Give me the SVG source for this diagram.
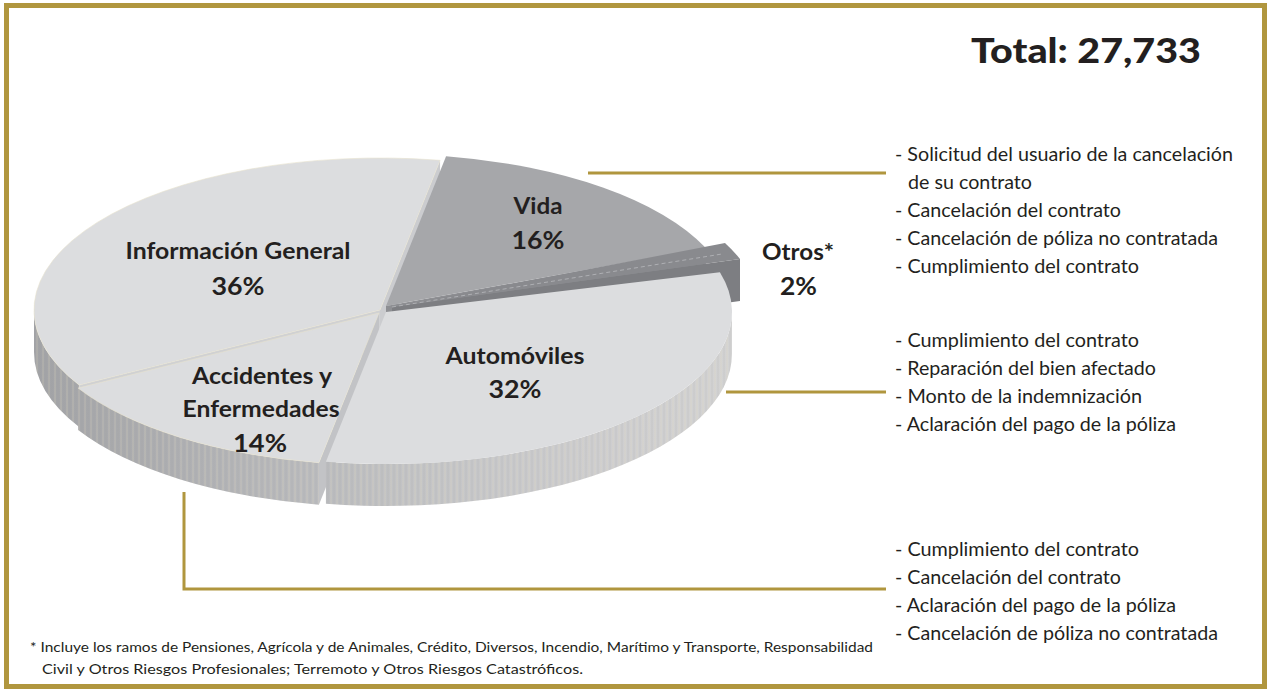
<svg xmlns="http://www.w3.org/2000/svg" width="1267" height="689" viewBox="0 0 1267 689">
<style>
.lbl{font-family:Lato,"Open Sans","Liberation Sans",sans-serif;font-weight:700;font-size:23px;fill:#231f20;text-anchor:middle}
.pct{font-family:Lato,"Open Sans","Liberation Sans",sans-serif;font-weight:700;font-size:24px;fill:#231f20;text-anchor:middle}
.item{font-family:Lato,"Open Sans","Liberation Sans",sans-serif;font-size:19px;fill:#231f20}
.foot{font-family:Lato,"Open Sans","Liberation Sans",sans-serif;font-size:13px;fill:#231f20}
.title{font-family:Lato,"Open Sans","Liberation Sans",sans-serif;font-weight:900;font-size:35px;fill:#231f20}
.top{fill:#dcdddf}
.rim{fill:url(#rimg)}
.conn{fill:none;stroke:#b0963e;stroke-width:3}
</style>
<defs>
<linearGradient id="rimg" gradientUnits="userSpaceOnUse" x1="34" y1="0" x2="732" y2="0">
<stop offset="0" stop-color="#a2a3a6"/>
<stop offset="0.3" stop-color="#b4b5b8"/>
<stop offset="0.55" stop-color="#c3c4c6"/>
<stop offset="0.8" stop-color="#cdcdcf"/>
<stop offset="1" stop-color="#d3d3d3"/>
</linearGradient>
<pattern id="stripes" width="6" height="20" patternUnits="userSpaceOnUse">
<line x1="1" y1="0" x2="1" y2="20" stroke="#e4dcc0" stroke-width="0.6" opacity="0.55"/>
<line x1="4" y1="0" x2="4" y2="20" stroke="#9c9da0" stroke-width="0.5" opacity="0.35"/>
</pattern>
</defs>
<rect x="0" y="0" width="1267" height="689" fill="#ffffff"/>
<rect x="6.5" y="5.5" width="1258" height="681" fill="none" stroke="#b0963e" stroke-width="5"/>

<g id="connectors">
<line class="conn" x1="588" y1="173" x2="886" y2="173"/>
<line class="conn" x1="726" y1="392" x2="886" y2="392"/>
<polyline class="conn" points="184,492 184,589 886,589"/>
</g>

<g id="informacion-general">
<path class="rim" d="M79.16,385.08 A346,152 0 0 1 34,310 L34,352 A346,152 0 0 0 79.16,427.08 Z"/>
<path fill="url(#stripes)" d="M79.16,385.08 A346,152 0 0 1 34,310 L34,352 A346,152 0 0 0 79.16,427.08 Z"/>
<path fill="#d0d1d3" d="M380,310 L79.16,385.08 L79.16,427.08 L380,352 Z"/>
<path fill="#cbcccf" d="M380,310 L440.08,160.31 L440.08,202.31 L380,352 Z"/>
<path class="top" stroke="#e8e3cf" stroke-width="0.6" d="M380,310 L79.16,385.08 A346,152 0 0 1 440.08,160.31 Z"/>
<text class="lbl" x="238" y="259" textLength="225" lengthAdjust="spacingAndGlyphs">Información General</text>
<text class="pct" x="238" y="295" textLength="53" lengthAdjust="spacingAndGlyphs">36%</text>
</g>

<g id="vida">
<path fill="#8e8f93" d="M386,306 L705.89,248.08 L705.89,290.08 L386,348 Z"/>
<path fill="#a6a7aa" d="M386,306 L446.08,156.31 A346,152 0 0 1 705.89,248.08 Z"/>
<text class="lbl" x="538" y="214" textLength="49" lengthAdjust="spacingAndGlyphs">Vida</text>
<text class="pct" x="538" y="249" textLength="53" lengthAdjust="spacingAndGlyphs">16%</text>
</g>

<g id="otros">
<path fill="#7d7e82" d="M392,307 L740,259 L740,301 L392,349 Z"/>
<path fill="#898a8e" d="M392,307 L725,243 A346,152 0 0 1 740,259 Z"/>
<line x1="392" y1="307" x2="722" y2="254" stroke="#b8b9bc" stroke-width="0.8" stroke-dasharray="4,3"/>
<text class="lbl" x="798" y="260" textLength="72" lengthAdjust="spacingAndGlyphs">Otros*</text>
<text class="pct" x="798.5" y="295" textLength="37" lengthAdjust="spacingAndGlyphs">2%</text>
</g>

<g id="accidentes-enfermedades">
<path fill="#c2c3c6" d="M379,313 L318.92,462.69 L318.92,504.69 L379,355 Z"/>
<path class="rim" d="M318.92,462.69 A346,152 0 0 1 78.16,388.08 L78.16,430.08 A346,152 0 0 0 318.92,504.69 Z"/>
<path fill="url(#stripes)" d="M318.92,462.69 A346,152 0 0 1 78.16,388.08 L78.16,430.08 A346,152 0 0 0 318.92,504.69 Z"/>
<path class="top" stroke="#e8e3cf" stroke-width="0.6" d="M379,313 L318.92,462.69 A346,152 0 0 1 78.16,388.08 Z"/>
<text class="lbl" x="262" y="384" textLength="140" lengthAdjust="spacingAndGlyphs">Accidentes y</text>
<text class="lbl" x="261" y="417" textLength="157" lengthAdjust="spacingAndGlyphs">Enfermedades</text>
<text class="pct" x="260" y="452" textLength="54" lengthAdjust="spacingAndGlyphs">14%</text>
</g>

<g id="automoviles">
<path class="rim" d="M732,312 A346,152 0 0 1 325.92,461.69 L325.92,503.69 A346,152 0 0 0 732,354 Z"/>
<path fill="url(#stripes)" d="M732,312 A346,152 0 0 1 325.92,461.69 L325.92,503.69 A346,152 0 0 0 732,354 Z"/>
<path class="top" d="M386,312 L719.9,272.15 A346,152 0 0 1 325.92,461.69 Z"/>
<text class="lbl" x="515" y="364" textLength="139" lengthAdjust="spacingAndGlyphs">Automóviles</text>
<text class="pct" x="515" y="398" textLength="53" lengthAdjust="spacingAndGlyphs">32%</text>
</g>

<g id="total">
<text class="title" x="971" y="63" textLength="230" lengthAdjust="spacingAndGlyphs">Total: 27,733</text>
</g>

<g id="vida-motivos">
<text class="item" x="895" y="161" textLength="338" lengthAdjust="spacingAndGlyphs">- Solicitud del usuario de la cancelación</text>
<text class="item" x="908" y="189" textLength="124" lengthAdjust="spacingAndGlyphs">de su contrato</text>
<text class="item" x="895" y="217" textLength="226" lengthAdjust="spacingAndGlyphs">- Cancelación del contrato</text>
<text class="item" x="895" y="245" textLength="323" lengthAdjust="spacingAndGlyphs">- Cancelación de póliza no contratada</text>
<text class="item" x="895" y="273" textLength="244" lengthAdjust="spacingAndGlyphs">- Cumplimiento del contrato</text>
</g>

<g id="automoviles-motivos">
<text class="item" x="895" y="347" textLength="244" lengthAdjust="spacingAndGlyphs">- Cumplimiento del contrato</text>
<text class="item" x="895" y="375" textLength="261" lengthAdjust="spacingAndGlyphs">- Reparación del bien afectado</text>
<text class="item" x="895" y="403" textLength="247" lengthAdjust="spacingAndGlyphs">- Monto de la indemnización</text>
<text class="item" x="895" y="431" textLength="281" lengthAdjust="spacingAndGlyphs">- Aclaración del pago de la póliza</text>
</g>

<g id="accidentes-motivos">
<text class="item" x="895" y="556" textLength="244" lengthAdjust="spacingAndGlyphs">- Cumplimiento del contrato</text>
<text class="item" x="895" y="584" textLength="226" lengthAdjust="spacingAndGlyphs">- Cancelación del contrato</text>
<text class="item" x="895" y="612" textLength="281" lengthAdjust="spacingAndGlyphs">- Aclaración del pago de la póliza</text>
<text class="item" x="895" y="640" textLength="323" lengthAdjust="spacingAndGlyphs">- Cancelación de póliza no contratada</text>
</g>

<g id="nota">
<text class="foot" x="30" y="652" textLength="843" lengthAdjust="spacingAndGlyphs">* Incluye los ramos de Pensiones, Agrícola y de Animales, Crédito, Diversos, Incendio, Marítimo y Transporte, Responsabilidad</text>
<text class="foot" x="42" y="674" textLength="541" lengthAdjust="spacingAndGlyphs">Civil y Otros Riesgos Profesionales; Terremoto y Otros Riesgos Catastróficos.</text>
</g>
</svg>
